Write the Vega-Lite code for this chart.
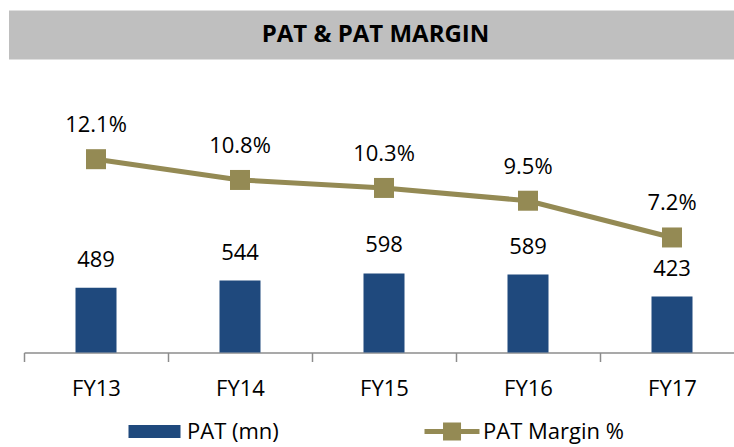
{
  "$schema": "https://vega.github.io/schema/vega-lite/v6.json",
  "padding": {"left": 9, "top": 10.5, "right": -10, "bottom": 4},
  "background": "white",
  "spacing": 0,
  "config": {
    "view": {"stroke": null},
    "font": "Open Sans",
    "text": {"font": "Open Sans"}
  },
  "datasets": {
    "pat": [
      {"year": "FY13", "pat": 489, "margin": 0.121},
      {"year": "FY14", "pat": 544, "margin": 0.108},
      {"year": "FY15", "pat": 598, "margin": 0.103},
      {"year": "FY16", "pat": 589, "margin": 0.095},
      {"year": "FY17", "pat": 423, "margin": 0.072}
    ],
    "heading": [{"t": "PAT & PAT MARGIN"}]
  },
  "vconcat": [
    {
      "width": 725,
      "height": 49,
      "view": {"fill": "#BFBFBF", "stroke": null},
      "data": {"name": "heading"},
      "mark": {"type": "text", "font": "Open Sans", "fontSize": 24, "fontWeight": "bold", "color": "#000000", "align": "center", "baseline": "middle", "dx": 4},
      "encoding": {"text": {"field": "t"}}
    },
    {
      "width": 725,
      "height": 293,
      "data": {"name": "pat"},
      "encoding": {
        "x": {
          "field": "year",
          "type": "nominal",
          "sort": null,
          "scale": {"range": [15, 735], "paddingInner": 0, "paddingOuter": 0},
          "axis": {
            "title": null,
            "labelAngle": 0,
            "labelFont": "Open Sans",
            "labelFontSize": 22,
            "labelColor": "#000000",
            "labelBaseline": "alphabetic",
            "labelPadding": 34,
            "domainColor": "#8C8C8C",
            "domainWidth": 1.5,
            "tickColor": "#8C8C8C",
            "tickWidth": 1.5,
            "tickSize": 9,
            "tickBand": "extent"
          }
        }
      },
      "layer": [
        {
          "mark": {"type": "bar", "width": 41},
          "encoding": {
            "y": {"field": "pat", "type": "quantitative", "scale": {"domain": [0, 2216], "nice": false, "zero": true}, "axis": null},
            "color": {
              "datum": "PAT (mn)",
              "type": "nominal",
              "scale": {"domain": ["PAT (mn)", "PAT Margin %"], "range": ["#1F497D", "#948A54"]},
              "legend": {
                "title": null,
                "orient": "none",
                "legendX": 115,
                "legendY": 410,
                "direction": "horizontal",
                "symbolSize": 169,
                "labelOffset": 41,
                "labelFont": "Open Sans",
                "labelFontSize": 22,
                "labelColor": "#000000",
                "labelLimit": 300,
                "columnPadding": 141,
                "encode": {
                  "symbols": {
                    "update": {
                      "shape": {"signal": "datum.value === 'PAT (mn)' ? 'M-1,-1H7V1H-1Z' : 'M-1,-0.385H7.46V0.385H-1Z M1.85,-1.385H4.62V1.385H1.85Z'"},
                      "fill": {"signal": "datum.value === 'PAT (mn)' ? '#1F497D' : '#948A54'"},
                      "stroke": {"value": "transparent"},
                      "strokeWidth": {"value": 0},
                      "opacity": {"value": 1},
                      "fillOpacity": {"value": 1},
                      "size": {"value": 169}
                    }
                  }
                }
              }
            }
          }
        },
        {
          "mark": {"type": "text", "font": "Open Sans", "fontSize": 22, "color": "#000000", "baseline": "alphabetic", "dy": -21},
          "encoding": {
            "y": {"field": "pat", "type": "quantitative", "scale": {"domain": [0, 2216], "nice": false, "zero": true}, "axis": null},
            "text": {"field": "pat", "type": "quantitative", "format": "d"}
          }
        },
        {
          "mark": {"type": "line", "strokeWidth": 5},
          "encoding": {
            "y": {"field": "margin", "type": "quantitative", "scale": {"domain": [0, 0.1834], "nice": false, "zero": true}, "axis": null},
            "color": {"datum": "PAT Margin %", "type": "nominal"}
          }
        },
        {
          "mark": {"type": "point", "shape": "square", "size": 400, "filled": true, "opacity": 1, "color": "#948A54"},
          "encoding": {
            "y": {"field": "margin", "type": "quantitative", "scale": {"domain": [0, 0.1834], "nice": false, "zero": true}, "axis": null}
          }
        },
        {
          "mark": {"type": "text", "font": "Open Sans", "fontSize": 22, "color": "#000000", "baseline": "alphabetic", "dy": -27},
          "encoding": {
            "y": {"field": "margin", "type": "quantitative", "scale": {"domain": [0, 0.1834], "nice": false, "zero": true}, "axis": null},
            "text": {"field": "margin", "type": "quantitative", "format": ".1%"}
          }
        }
      ],
      "resolve": {"scale": {"y": "independent"}}
    }
  ]
}
